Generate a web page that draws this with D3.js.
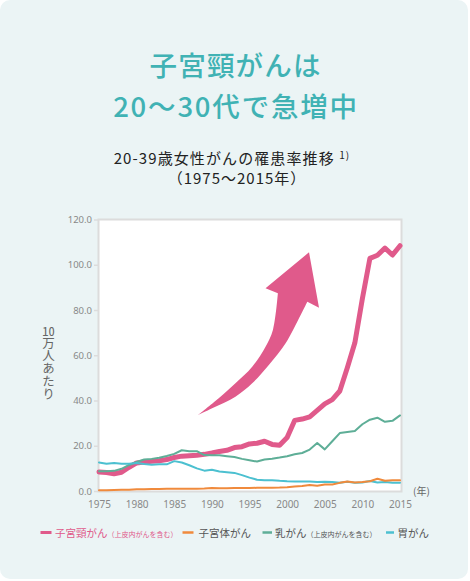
<!DOCTYPE html>
<html><head><meta charset="utf-8">
<script src="https://cdn.jsdelivr.net/npm/d3@7"></script>
<style>body{margin:0;background:#fff}svg{display:block}</style>
</head><body><svg id="c" width="470" height="581"></svg>
<script>
const years = [1975,1976,1977,1978,1979,1980,1981,1982,1983,1984,1985,1986,1987,1988,1989,1990,1991,1992,1993,1994,1995,1996,1997,1998,1999,2000,2001,2002,2003,2004,2005,2006,2007,2008,2009,2010,2011,2012,2013,2014,2015];
const cervical = [8.4,8.2,7.6,8.3,10.5,12.4,12.8,13.1,13.4,13.9,14.8,15.4,15.6,15.8,16.2,16.8,17.5,18.0,19.2,19.6,20.8,21.1,22.0,20.6,20.2,23.6,31.2,31.8,32.8,35.6,38.5,40.4,44.2,54.5,65.5,85.0,102.8,104.2,107.4,104.3,108.4];
const uterine = [0.3,0.3,0.4,0.5,0.6,0.8,0.8,0.9,0.9,1.0,1.0,1.0,1.0,1.0,1.1,1.3,1.2,1.2,1.3,1.3,1.3,1.4,1.4,1.4,1.5,1.7,2.0,2.2,2.6,2.3,2.9,2.9,3.6,4.2,3.8,4.0,4.3,5.4,4.5,4.8,4.7];
const breast = [8.7,8.7,8.9,9.8,11.5,12.8,13.9,14.2,14.7,15.5,16.4,18.0,17.6,17.6,15.9,15.8,15.8,15.4,15.0,14.2,13.6,13.0,13.9,14.3,14.8,15.4,16.2,16.8,18.3,21.2,18.4,22.0,25.6,26.1,26.5,29.5,31.5,32.4,30.6,31.0,33.4];
const stomach = [12.6,12.0,12.4,12.0,12.0,12.4,11.9,11.6,11.8,11.8,13.2,12.6,11.4,10.0,9.0,9.4,8.6,8.3,8.0,7.0,5.9,5.0,4.8,4.8,4.5,4.3,4.2,4.2,4.2,4.0,4.1,4.0,3.6,4.1,3.6,3.8,4.4,3.8,4.0,3.6,3.7];
const yTicks = [0,20,40,60,80,100,120];
const xTicks = [1975,1980,1985,1990,1995,2000,2005,2010,2015];
// decorative arrow outline in data space [year, value]
const arrowUpper = [[1988.16,33.6],[1990.91,41.0],[1993.13,47.6],[1995.36,54.9],[1997.13,63.8],[1998.11,71.2],[1998.77,87.4]];
const arrowHead = [[1997.13,89.6],[2002.91,105.5],[2004.24,81.0],[2002.69,83.7]];
const arrowLower = [[2002.69,83.7],[2001.8,77.8],[1999.8,65.3],[1997.57,55.7],[1995.36,47.6],[1993.13,41.7],[1990.03,36.6],[1988.16,33.6]];

const C = {pink:"#e05a8b", orange:"#f08a3c", green:"#5eae97", cyan:"#4cc0d0", teal:"#40b2b4"};
const JP = "'Noto Sans CJK JP','Noto Sans',sans-serif";
const NUM = "'Noto Sans','Noto Sans CJK JP',sans-serif";

const svg = d3.select("#c");
svg.append("rect").attr("x",0).attr("y",0).attr("width",468).attr("height",579).attr("rx",10).attr("fill","#ebf4f5");

// titles
svg.append("text").attr("x",235.6).attr("y",75.5).attr("text-anchor","middle").attr("font-family",JP).attr("font-weight",500)
  .attr("font-size",27.5).attr("letter-spacing",1.2).attr("fill",C.teal).text("子宮頸がんは");
svg.append("text").attr("x",236).attr("y",116.5).attr("text-anchor","middle").attr("font-family",JP).attr("font-weight",500)
  .attr("font-size",27.5).attr("letter-spacing",1.8).attr("fill",C.teal).text("20～30代で急増中");
const sub = svg.append("text").attr("x",232).attr("y",164).attr("text-anchor","middle").attr("font-family",JP).attr("font-size",15).attr("letter-spacing",1.1).attr("fill","#222");
sub.append("tspan").text("20-39歳女性がんの罹患率推移 ");
sub.append("tspan").attr("font-size",10).attr("dy",-5).text("1)");
svg.append("text").attr("x",237).attr("y",184).attr("text-anchor","middle").attr("font-family",JP).attr("font-size",15).attr("letter-spacing",1).attr("fill","#222").text("（1975～2015年）");

const x = d3.scaleLinear().domain([1975,2015]).range([99,400]);
const y = d3.scaleLinear().domain([0,120]).range([491,219.5]);

// plot frame
svg.append("rect").attr("x",x(1975)-0.5).attr("y",y(120)).attr("width",x(2015)-x(1975)+2).attr("height",y(0)-y(120)+0.5)
  .attr("fill","#fff").attr("stroke","#dcdcdc").attr("stroke-width",2);

// y axis
const ya = svg.append("g").attr("transform",`translate(${x(1975)-1},0)`)
  .call(d3.axisLeft(y).tickValues(yTicks).tickFormat(d=>d.toFixed(1)).tickSize(4).tickPadding(2));
ya.select(".domain").remove();
ya.selectAll("line").attr("stroke","#dcdcdc").attr("stroke-width",1.5);
ya.selectAll("text").attr("font-family",NUM).attr("font-size",9.5).attr("fill","#888");

// x axis
const xa = svg.append("g").attr("transform",`translate(0,${y(0)})`)
  .call(d3.axisBottom(x).tickValues(xTicks).tickFormat(d3.format("d")).tickSize(0).tickPadding(10));
xa.select(".domain").remove();
xa.selectAll("text").attr("font-family",NUM).attr("font-size",10).attr("fill","#888");
svg.append("text").attr("x",413).attr("y",495).attr("font-family",JP).attr("font-size",10).attr("fill","#666").text("(年)");

// y label (vertical writing)
const fo = svg.append("foreignObject").attr("x",37).attr("y",324).attr("width",23).attr("height",82);
fo.append("xhtml:div")
  .attr("style",`writing-mode:vertical-rl;font-family:${JP.replace(/'/g,'"')};font-size:12.5px;line-height:23px;color:#666;letter-spacing:0.3px;margin:0;`)
  .html('<span style="text-combine-upright:all">10</span>万人あたり');

// arrow
const aline = d3.line().x(d=>x(d[0])).y(d=>y(d[1])).curve(d3.curveCatmullRom);
const headStr = arrowHead.map(d=>`L${x(d[0])},${y(d[1])}`).join("");
const arrowPath = aline(arrowUpper) + headStr + aline(arrowLower).replace(/^M/,"L") + "Z";
svg.append("path").attr("d",arrowPath).attr("fill",C.pink);

// series lines
const series = [
  {vals:cervical, color:C.pink, w:5},
  {vals:breast, color:C.green, w:2},
  {vals:stomach, color:C.cyan, w:2},
  {vals:uterine, color:C.orange, w:2}
];
const line = d3.line().x((d,i)=>x(years[i])).y(d=>y(d));
svg.append("g").selectAll("path").data(series).join("path")
  .attr("d",s=>line(s.vals)).attr("fill","none").attr("stroke",s=>s.color).attr("stroke-width",s=>s.w)
  .attr("stroke-linejoin","round").attr("stroke-linecap","round");

// legend
const legend = [
  {x1:40.5,x2:51.5,tx:55,label:"子宮頸がん",note:"（上皮内がんを含む）",color:C.pink,text:C.pink,w:3},
  {x1:182.5,x2:193.5,tx:198.5,label:"子宮体がん",note:"",color:C.orange,text:"#555",w:2.5},
  {x1:262.5,x2:272,tx:275,label:"乳がん",note:"（上皮内がんを含む）",color:C.green,text:"#555",w:2.5},
  {x1:386,x2:394,tx:397.5,label:"胃がん",note:"",color:C.cyan,text:"#555",w:2.5}
];
const lg = svg.append("g").selectAll("g").data(legend).join("g");
lg.append("line").attr("x1",d=>d.x1).attr("x2",d=>d.x2).attr("y1",532.5).attr("y2",532.5).attr("stroke",d=>d.color).attr("stroke-width",d=>d.w);
const lt = lg.append("text").attr("x",d=>d.tx).attr("y",537).attr("font-family",JP).attr("font-size",10.5).attr("fill",d=>d.text);
lt.append("tspan").text(d=>d.label);
lt.append("tspan").attr("font-size",7).attr("dy",-0.5).text(d=>d.note);
</script></body></html>
